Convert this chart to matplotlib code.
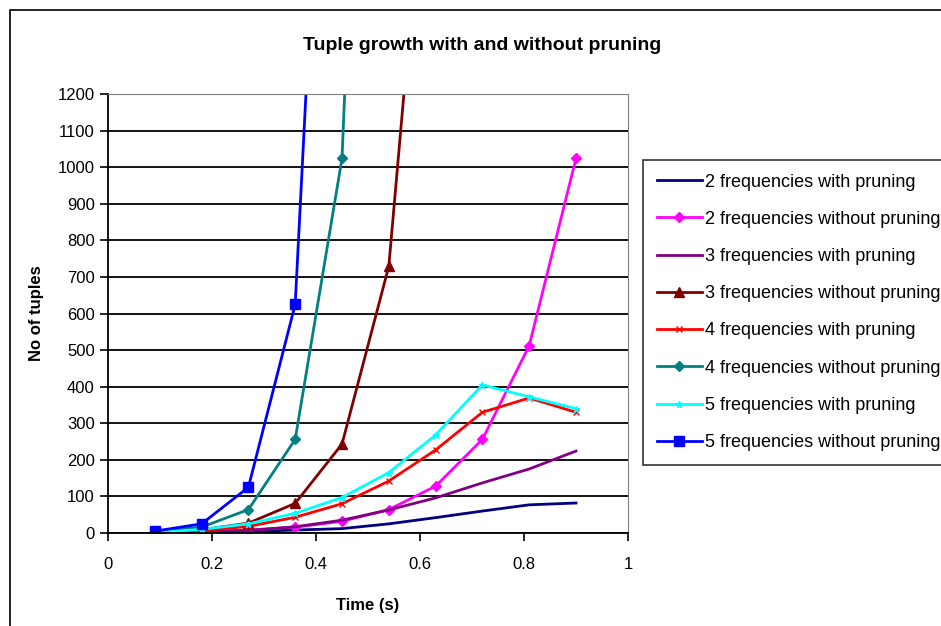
import matplotlib
matplotlib.use("Agg")
from matplotlib import pyplot as plt
from matplotlib.patches import Rectangle

plt.rcParams['font.family'] = ['Liberation Sans', 'DejaVu Sans']

# time points (s)
time = [0.09, 0.18, 0.27, 0.36, 0.45, 0.54, 0.63, 0.72, 0.81, 0.90]

# tuple counts
f2_with = [1, 2, 4, 8, 12, 25, 42, 60, 77, 82]
f2_without = [2, 4, 8, 16, 32, 64, 128, 256, 512, 1024]
f3_with = [1, 3, 7, 17, 35, 63, 96, 137, 175, 224]
f3_without = [3, 9, 27, 81, 243, 729, 2187]
f4_with = [1, 6, 18, 43, 80, 142, 227, 330, 369, 330]
f4_without = [4, 16, 64, 256, 1024, 4096]
f5_with = [1, 10, 25, 54, 97, 165, 268, 405, 372, 340]
f5_without = [5, 25, 125, 625, 3125]

series = [
    ("2 frequencies with pruning", f2_with, "#000080", None, 0),
    ("2 frequencies without pruning", f2_without, "#FF00FF", "D", 5),
    ("3 frequencies with pruning", f3_with, "#800080", None, 0),
    ("3 frequencies without pruning", f3_without, "#800000", "^", 7),
    ("4 frequencies with pruning", f4_with, "#FF0000", "x", 5),
    ("4 frequencies without pruning", f4_without, "#008080", "D", 5),
    ("5 frequencies with pruning", f5_with, "#00FFFF", "*", 5),
    ("5 frequencies without pruning", f5_without, "#0000FF", "s", 7),
]

fig = plt.figure(figsize=(9.41, 6.26), dpi=100)
ax = fig.add_axes([108 / 941, 93 / 626, 520 / 941, 439 / 626])

for label, vals, color, marker, ms in series:
    ax.plot(time[:len(vals)], vals, color=color, marker=marker, markersize=ms,
            linewidth=2, label=label, clip_on=True)

ax.set_xlim(0, 1)
ax.set_ylim(0, 1200)
ax.set_xticks([0, 0.2, 0.4, 0.6, 0.8, 1])
ax.set_xticklabels(["0", "0.2", "0.4", "0.6", "0.8", "1"])
ax.set_yticks(range(0, 1201, 100))
ax.yaxis.grid(True, color="black", linewidth=1.3)
ax.set_axisbelow(True)
ax.tick_params(axis="both", labelsize=12, direction="out", length=6, width=1.2)
ax.tick_params(axis="x", pad=11)
for side in ["top", "right"]:
    ax.spines[side].set_color("#808080")
for side in ["left", "bottom"]:
    ax.spines[side].set_linewidth(1.3)

ax.set_xlabel("Time (s)", fontsize=12, fontweight="bold", labelpad=19)
ax.set_ylabel("No of tuples", fontsize=12, fontweight="bold", labelpad=10)
fig.text(482 / 941, 1 - 45 / 626, "Tuple growth with and without pruning",
         ha="center", va="center", fontsize=14, fontweight="bold")

leg = fig.legend(loc="upper left", bbox_to_anchor=(643 / 941, 1 - 160 / 626),
                 fontsize=13, frameon=True, fancybox=False, edgecolor="black",
                 handlelength=2.5, handletextpad=0.2, labelspacing=1.12,
                 borderpad=0.75, borderaxespad=0)
leg.get_frame().set_linewidth(1.2)

# outer chart border
fig.patches.append(Rectangle((10 / 941, -0.1), 1.1, 1 - 10 / 626 + 0.1,
                             transform=fig.transFigure, fill=False,
                             edgecolor="black", linewidth=1.2))

fig.savefig("out.png", dpi=100)
